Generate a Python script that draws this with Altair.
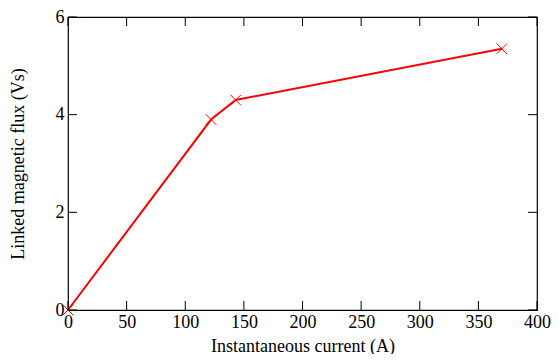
import altair as alt
import pandas as pd

current = [0, 122, 143, 370]
flux = [0, 3.9, 4.3, 5.35]
x_ticks = [0, 50, 100, 150, 200, 250, 300, 350, 400]
y_ticks = [0, 2, 4, 6]

W, H = 469, 293
TICK = 9
FONT = "Liberation Serif"
FS = 18

df = pd.DataFrame({"current": current, "flux": flux})
dfx = pd.DataFrame({"t": x_ticks})
dfy = pd.DataFrame({"t": y_ticks})

xs = alt.Scale(domain=[0, 400], nice=False, zero=False)
ys = alt.Scale(domain=[0, 6], nice=False, zero=False)

xaxis = alt.Axis(values=x_ticks, ticks=False, domain=False, grid=False, labelFont=FONT,
                 labelFontSize=FS, labelColor="black", labelPadding=3,
                 title="Instantaneous current (A)", titleFont=FONT, titleFontSize=FS,
                 titleFontWeight="normal", titleColor="black", titlePadding=6, labelFlush=False)
yaxis = alt.Axis(values=y_ticks, ticks=False, domain=False, grid=False, labelFont=FONT,
                 labelFontSize=FS, labelColor="black", labelPadding=4,
                 title="Linked magnetic flux (Vs)", titleFont=FONT, titleFontSize=FS,
                 titleFontWeight="normal", titleColor="black", titlePadding=28, labelFlush=False)

line = alt.Chart(df).mark_line(color="#ff0000", strokeWidth=2).encode(
    x=alt.X("current:Q", scale=xs, axis=xaxis),
    y=alt.Y("flux:Q", scale=ys, axis=yaxis),
)
pts = alt.Chart(df).mark_point(shape="M-1,-1L1,1M-1,1L1,-1", filled=False, color="#ff0000",
                               strokeWidth=1, size=110, opacity=1).encode(
    x=alt.X("current:Q", scale=xs), y=alt.Y("flux:Q", scale=ys))

bt = alt.Chart(dfx).mark_rule(color="black", strokeWidth=1).encode(
    x=alt.X("t:Q", scale=xs), y=alt.value(H), y2=alt.value(H - TICK))
tt = alt.Chart(dfx).mark_rule(color="black", strokeWidth=1).encode(
    x=alt.X("t:Q", scale=xs), y=alt.value(0), y2=alt.value(TICK))
lt = alt.Chart(dfy).mark_rule(color="black", strokeWidth=1).encode(
    y=alt.Y("t:Q", scale=ys), x=alt.value(0), x2=alt.value(TICK))
rt = alt.Chart(dfy).mark_rule(color="black", strokeWidth=1).encode(
    y=alt.Y("t:Q", scale=ys), x=alt.value(W), x2=alt.value(W - TICK))

chart = alt.layer(line, pts, bt, tt, lt, rt).properties(
    width=W, height=H,
    autosize=alt.AutoSizeParams(type="none"),
    padding={"left": 60, "top": 9, "right": 14, "bottom": 44},
).configure_view(stroke="black", strokeWidth=1.2)

chart.save("out.html", embed_options={"renderer": "svg", "actions": False})
